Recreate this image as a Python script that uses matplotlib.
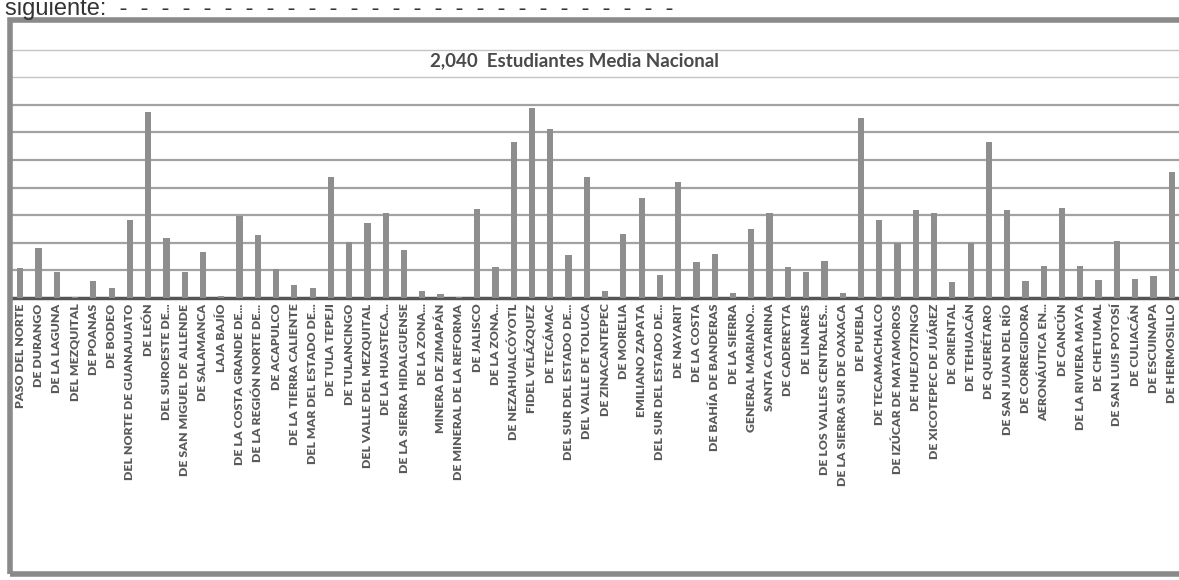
import matplotlib.pyplot as plt
from matplotlib.patches import Rectangle

# Planteles y estudiantes
planteles = [
    "PASO DEL NORTE", "DE DURANGO", "DE LA LAGUNA", "DEL MEZQUITAL", "DE POANAS",
    "DE BODEO", "DEL NORTE DE GUANAJUATO", "DE LEÓN", "DEL SUROESTE DE...",
    "DE SAN MIGUEL DE ALLENDE", "DE SALAMANCA", "LAJA BAJÍO", "DE LA COSTA GRANDE DE...",
    "DE LA REGIÓN NORTE DE...", "DE ACAPULCO", "DE LA TIERRA CALIENTE",
    "DEL MAR DEL ESTADO DE...", "DE TULA TEPEJI", "DE TULANCINGO",
    "DEL VALLE DEL MEZQUITAL", "DE LA HUASTECA...", "DE LA SIERRA HIDALGUENSE",
    "DE LA ZONA...", "MINERA DE ZIMAPÁN", "DE MINERAL DE LA REFORMA", "DE JALISCO",
    "DE LA ZONA...", "DE NEZAHUALCÓYOTL", "FIDEL VELÁZQUEZ", "DE TECÁMAC",
    "DEL SUR DEL ESTADO DE...", "DEL VALLE DE TOLUCA", "DE ZINACANTEPEC", "DE MORELIA",
    "EMILIANO ZAPATA", "DEL SUR DEL ESTADO DE...", "DE NAYARIT", "DE LA COSTA",
    "DE BAHÍA DE BANDERAS", "DE LA SIERRA", "GENERAL MARIANO...", "SANTA CATARINA",
    "DE CADEREYTA", "DE LINARES", "DE LOS VALLES CENTRALES...",
    "DE LA SIERRA SUR DE OAXACA", "DE PUEBLA", "DE TECAMACHALCO",
    "DE IZÚCAR DE MATAMOROS", "DE HUEJOTZINGO", "DE XICOTEPEC DE JUÁREZ", "DE ORIENTAL",
    "DE TEHUACÁN", "DE QUERÉTARO", "DE SAN JUAN DEL RÍO", "DE CORREGIDORA",
    "AERONÁUTICA EN...", "DE CANCÚN", "DE LA RIVIERA MAYA", "DE CHETUMAL",
    "DE SAN LUIS POTOSÍ", "DE CULIACÁN", "DE ESCUINAPA", "DE HERMOSILLO",
]
estudiantes = [
    1070, 1820, 950, 30, 600, 350, 2810, 6750, 2160, 960,
    1680, 60, 2960, 2280, 1040, 470, 350, 4400, 2040, 2720,
    3080, 1730, 270, 150, 30, 3210, 1110, 5670, 6900, 6130,
    1550, 4390, 240, 2330, 3640, 830, 4200, 1320, 1600, 180,
    2510, 3080, 1110, 930, 1350, 190, 6530, 2810, 1990, 3190,
    3070, 570, 1990, 5660, 3190, 620, 1170, 3250, 1170, 670,
    2050, 690, 780, 4560,
]
titulo = "2,040  Estudiantes Media Nacional"

fuente = ["Lato", "DejaVu Sans"]

fig = plt.figure(figsize=(11.79, 5.8), dpi=100)
ax = fig.add_axes([12 / 1179, 1 - 298 / 580, 1167 / 1179, 276 / 580])

x = list(range(len(estudiantes)))
ax.bar(x, estudiantes, width=0.34, color="#8e8e8e", zorder=3)

ax.set_xlim(-0.45, len(estudiantes) - 0.6)
ax.set_ylim(0, 10000)
for y in range(1000, 10000, 1000):
    # las líneas superiores se ven más tenues en el original
    ax.axhline(y, color="#a2a2a2" if y <= 7000 else "#c4c4c4",
               linewidth=1.6 if y <= 7000 else 1.0, zorder=0)
ax.set_yticks([])
ax.tick_params(axis="x", length=0, pad=4)
ax.set_xticks(x)
ax.set_xticklabels(planteles, rotation=90, fontsize=8.8, color="#5a5a5a",
                   family=fuente, fontweight="heavy")

for s in ["top", "right", "left"]:
    ax.spines[s].set_visible(False)
ax.spines["bottom"].set_color("#555555")
ax.spines["bottom"].set_linewidth(2.5)

ax.text(0.482, 0.86, titulo, transform=ax.transAxes, ha="center", va="center",
        fontsize=13.5, color="#4a4a4a", family=fuente, fontweight="bold")

# marco del gráfico
fig.patches.append(Rectangle((10 / 1179, 6 / 580), 1.0, 554 / 580,
                             transform=fig.transFigure, fill=False,
                             edgecolor="#8a8a8a", linewidth=4))

fig.text(0.004, 1 - 15 / 580, "siguiente:  " + "-  " * 27, fontsize=17,
         color="#333333", va="baseline", family=["Liberation Sans", "DejaVu Sans"])

fig.savefig("out.png", dpi=100)
